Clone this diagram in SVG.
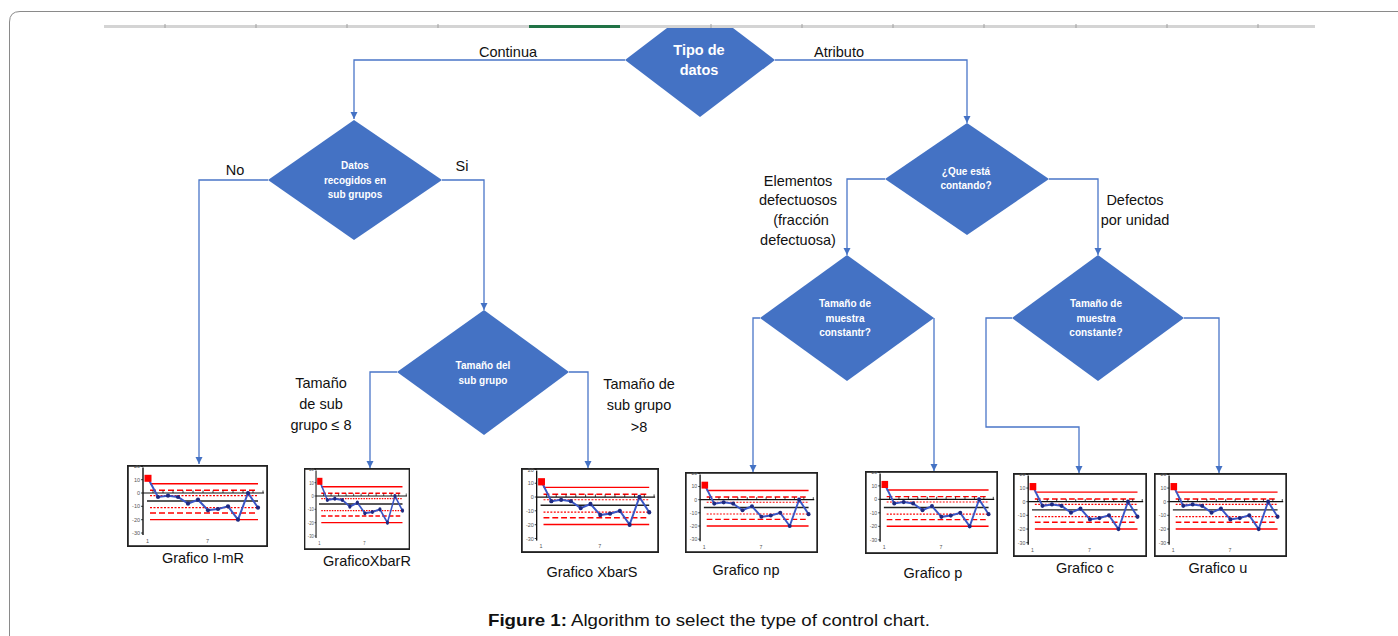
<svg xmlns="http://www.w3.org/2000/svg" xmlns:xlink="http://www.w3.org/1999/xlink" width="1398" height="636" viewBox="0 0 1398 636">
<style>
.dia{fill:#4472C4;}
.dt{fill:#fff;font-family:"Liberation Sans",Arial,sans-serif;font-weight:bold;font-size:10px;text-anchor:middle;}
.dt1{fill:#fff;font-family:"Liberation Sans",Arial,sans-serif;font-weight:bold;font-size:14.5px;text-anchor:middle;}
.lb{fill:#111;font-family:"Liberation Sans",Arial,sans-serif;font-size:14.5px;text-anchor:middle;}
.con{fill:none;stroke:#4A76C8;stroke-width:1.3;}
.ax{fill:#555;font-family:"Liberation Sans",Arial,sans-serif;font-size:5.5px;text-anchor:end;}
</style>
<defs>
<marker id="arr" markerUnits="userSpaceOnUse" markerWidth="8" markerHeight="8" refX="7" refY="4" orient="auto">
<path d="M0,0.5 L7,4 L0,7.5 z" fill="#4472C4"/>
</marker>
<symbol id="chart" viewBox="0 0 141 82" preserveAspectRatio="none">
<rect x="0.9" y="0.9" width="139.2" height="80.2" fill="#fff" stroke="#222" stroke-width="1.8"/>
<line x1="16" y1="2.5" x2="16" y2="70" stroke="#111" stroke-width="1.4"/>
<g stroke="#111" stroke-width="0.8">
<line x1="14" y1="1.4" x2="16" y2="1.4"/><line x1="14" y1="14.7" x2="16" y2="14.7"/><line x1="14" y1="28" x2="16" y2="28"/><line x1="14" y1="41.3" x2="16" y2="41.3"/><line x1="14" y1="54.7" x2="16" y2="54.7"/><line x1="14" y1="68" x2="16" y2="68"/>
</g>
<text class="ax" x="13" y="3.4">20</text>
<text class="ax" x="13" y="16.7">10</text>
<text class="ax" x="13" y="30">0</text>
<text class="ax" x="13" y="43.3">-10</text>
<text class="ax" x="13" y="56.7">-20</text>
<text class="ax" x="13" y="70">-30</text>
<text class="ax" x="22" y="77.5" text-anchor="middle">1</text>
<text class="ax" x="82" y="77.5" text-anchor="middle">7</text>
<line x1="23" y1="18.7" x2="131" y2="18.7" stroke="#f00" stroke-width="1.4"/>
<line x1="23" y1="54.6" x2="131" y2="54.6" stroke="#f00" stroke-width="1.4"/>
<line x1="23" y1="25.3" x2="131" y2="25.3" stroke="#f00" stroke-width="1.4" stroke-dasharray="6 3"/>
<line x1="23" y1="48" x2="131" y2="48" stroke="#f00" stroke-width="1.4" stroke-dasharray="6 3"/>
<line x1="23" y1="30.6" x2="131" y2="30.6" stroke="#f00" stroke-width="1.1" stroke-dasharray="2 1.5"/>
<line x1="23" y1="42.6" x2="131" y2="42.6" stroke="#f00" stroke-width="1.1" stroke-dasharray="2 1.5"/>
<line x1="20" y1="36" x2="131" y2="36" stroke="#222" stroke-width="1.4"/>
<line x1="16" y1="28" x2="137" y2="28" stroke="#111" stroke-width="1.2"/>
<g stroke="#111" stroke-width="0.8">
<line x1="26" y1="25.5" x2="26" y2="28"/><line x1="36" y1="25.5" x2="36" y2="28"/><line x1="46" y1="25.5" x2="46" y2="28"/><line x1="56" y1="25.5" x2="56" y2="28"/><line x1="66" y1="25.5" x2="66" y2="28"/><line x1="76" y1="25.5" x2="76" y2="28"/><line x1="86" y1="25.5" x2="86" y2="28"/><line x1="96" y1="25.5" x2="96" y2="28"/><line x1="106" y1="25.5" x2="106" y2="28"/><line x1="116" y1="25.5" x2="116" y2="28"/><line x1="126" y1="25.5" x2="126" y2="28"/><line x1="136" y1="25.5" x2="136" y2="28"/>
</g>
<polyline points="21,13.3 31,32 41,30.7 51,32 61,38.7 71,34.7 81,45.3 91,44 101,41.3 111,54.7 121,28 131,42.7" fill="none" stroke="#3A56C5" stroke-width="2"/>
<g fill="#1F2A80">
<circle cx="31" cy="32" r="2.1"/><circle cx="41" cy="30.7" r="2.1"/><circle cx="51" cy="32" r="2.1"/><circle cx="61" cy="38.7" r="2.1"/><circle cx="71" cy="34.7" r="2.1"/><circle cx="81" cy="45.3" r="2.1"/><circle cx="91" cy="44" r="2.1"/><circle cx="101" cy="41.3" r="2.1"/><circle cx="111" cy="54.7" r="2.1"/><circle cx="121" cy="28" r="2.1"/><circle cx="131" cy="42.7" r="2.1"/>
</g>
<rect x="17.5" y="9.8" width="7" height="7" fill="#f00"/>
</symbol>
</defs>
<rect width="1398" height="636" fill="#fff"/>
<path d="M1400,11.5 H20 Q9.5,11.5 9.5,22 V640" fill="none" stroke="#8a8a8a" stroke-width="1"/>
<g id="ruler">
<rect x="104" y="25" width="1211" height="3" fill="#d4d4d4"/>
<rect x="529" y="25" width="91" height="3" fill="#217346"/>
<g stroke="#a0a0a0" stroke-width="1">
<line x1="165" y1="24" x2="165" y2="28"/><line x1="256" y1="24" x2="256" y2="28"/><line x1="347" y1="24" x2="347" y2="28"/><line x1="438" y1="24" x2="438" y2="28"/><line x1="711" y1="24" x2="711" y2="28"/><line x1="802" y1="24" x2="802" y2="28"/><line x1="893" y1="24" x2="893" y2="28"/><line x1="984" y1="24" x2="984" y2="28"/><line x1="1076" y1="24" x2="1076" y2="28"/><line x1="1167" y1="24" x2="1167" y2="28"/><line x1="1258" y1="24" x2="1258" y2="28"/>
</g>
</g>
<g id="connectors">
<polyline class="con" points="625,60 354,60 354,119" marker-end="url(#arr)"/>
<polyline class="con" points="775,60 967,60 967,123" marker-end="url(#arr)"/>
<polyline class="con" points="268,180 199,180 199,464" marker-end="url(#arr)"/>
<polyline class="con" points="442,180 484,180 484,310" marker-end="url(#arr)"/>
<polyline class="con" points="397,372 370,372 370,468" marker-end="url(#arr)"/>
<polyline class="con" points="569,372 588,372 588,468" marker-end="url(#arr)"/>
<polyline class="con" points="885,179 847,179 847,255" marker-end="url(#arr)"/>
<polyline class="con" points="1049,179 1098,179 1098,255" marker-end="url(#arr)"/>
<polyline class="con" points="760,318 753,318 753,472" marker-end="url(#arr)"/>
<polyline class="con" points="934,318 934,471" marker-end="url(#arr)"/>
<polyline class="con" points="1012,318 986,318 986,427 1079,427 1079,473" marker-end="url(#arr)"/>
<polyline class="con" points="1184,318 1219,318 1219,473" marker-end="url(#arr)"/>
<text class="lb" x="508" y="57">Continua</text>
<text class="lb" x="839" y="57">Atributo</text>
<text class="lb" x="235" y="175">No</text>
<text class="lb" x="462" y="171">Si</text>
<text class="lb" x="321" y="388">Tamaño</text>
<text class="lb" x="321" y="409">de sub</text>
<text class="lb" x="321" y="430">grupo ≤ 8</text>
<text class="lb" x="639" y="389">Tamaño de</text>
<text class="lb" x="639" y="410">sub grupo</text>
<text class="lb" x="639" y="432">&gt;8</text>
<text class="lb" x="798" y="186">Elementos</text>
<text class="lb" x="798" y="205">defectuosos</text>
<text class="lb" x="801" y="225">(fracción</text>
<text class="lb" x="798" y="245">defectuosa)</text>
<text class="lb" x="1135" y="205">Defectos</text>
<text class="lb" x="1135" y="225">por unidad</text>
</g>
<g id="d-tipo">
<polygon class="dia" points="625,60 667,28 733,28 775,60 700,117"/>
<text class="dt1" x="699" y="55">Tipo de</text>
<text class="dt1" x="699" y="75">datos</text>
</g>
<g id="d-subgrupos">
<polygon class="dia" points="354,120 442,180 354,240 268,180"/>
<text class="dt" x="355" y="169">Datos</text>
<text class="dt" x="355" y="184">recogidos en</text>
<text class="dt" x="355" y="198">sub grupos</text>
</g>
<g id="d-tamano-sub">
<polygon class="dia" points="484,310 569,372 484,435 397,372"/>
<text class="dt" x="483" y="369">Tamaño del</text>
<text class="dt" x="483" y="384">sub grupo</text>
</g>
<g id="d-contando">
<polygon class="dia" points="967,123 1049,179 967,235 885,179"/>
<text class="dt" x="966" y="175">¿Que está</text>
<text class="dt" x="966" y="189">contando?</text>
</g>
<g id="d-muestra1">
<polygon class="dia" points="847,255 934,318 847,381 760,318"/>
<text class="dt" x="845" y="307">Tamaño de</text>
<text class="dt" x="845" y="322">muestra</text>
<text class="dt" x="845" y="336">constantr?</text>
</g>
<g id="d-muestra2">
<polygon class="dia" points="1098,255 1184,318 1098,381 1012,318"/>
<text class="dt" x="1096" y="307">Tamaño de</text>
<text class="dt" x="1096" y="322">muestra</text>
<text class="dt" x="1096" y="336">constante?</text>
</g>
<g id="c-imr">
<use xlink:href="#chart" x="127" y="465" width="141" height="82"/>
<text class="lb" x="203" y="563">Grafico I-mR</text>
</g>
<g id="c-xbarr">
<use xlink:href="#chart" x="304" y="468" width="106" height="82"/>
<text class="lb" x="367" y="566">GraficoXbarR</text>
</g>
<g id="c-xbars">
<use xlink:href="#chart" x="521" y="468" width="138" height="85"/>
<text class="lb" x="592" y="577">Grafico XbarS</text>
</g>
<g id="c-np">
<use xlink:href="#chart" x="685" y="472" width="133" height="81"/>
<text class="lb" x="746" y="575">Grafico np</text>
</g>
<g id="c-p">
<use xlink:href="#chart" x="865" y="471" width="133" height="83"/>
<text class="lb" x="933" y="578">Grafico p</text>
</g>
<g id="c-c">
<use xlink:href="#chart" x="1013" y="473" width="134" height="84"/>
<text class="lb" x="1085" y="573">Grafico c</text>
</g>
<g id="c-u">
<use xlink:href="#chart" x="1154" y="473" width="133" height="84"/>
<text class="lb" x="1218" y="573">Grafico u</text>
</g>
<g id="caption" font-family="'Liberation Sans',Arial,sans-serif" font-size="16.5px" fill="#111">
<text x="488" y="626" font-weight="bold" textLength="79" lengthAdjust="spacingAndGlyphs">Figure 1:</text>
<text x="571" y="626" textLength="359" lengthAdjust="spacingAndGlyphs">Algorithm to select the type of control chart.</text>
</g>
</svg>
